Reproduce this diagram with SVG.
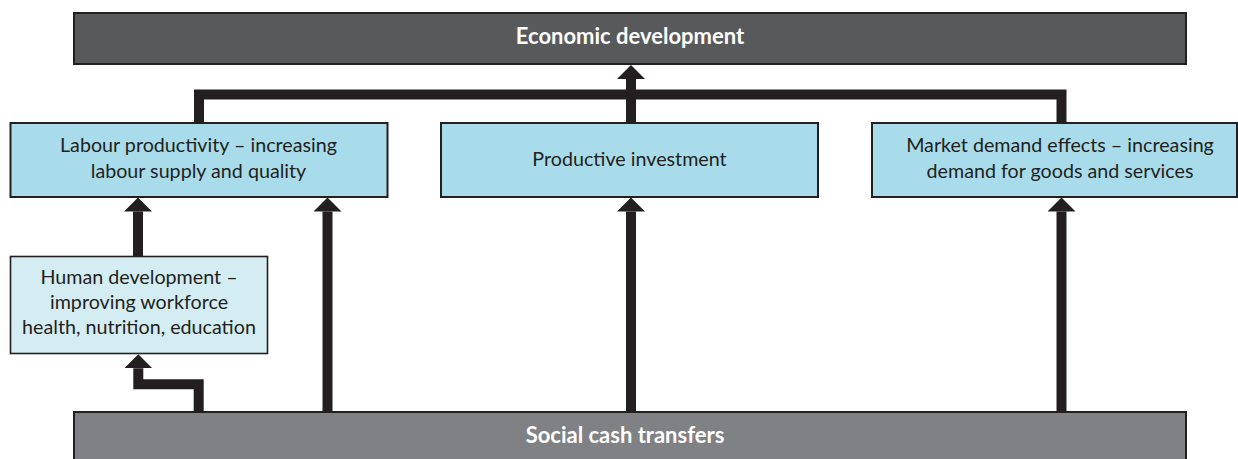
<svg xmlns="http://www.w3.org/2000/svg" width="1238" height="459" viewBox="0 0 1238 459">
<style>
.dark{fill:#58595b;stroke:#231f20;stroke-width:2}
.mid{fill:#808184;stroke:#231f20;stroke-width:2}
.blue{fill:#a8dcea;stroke:#231f20;stroke-width:2}
.pale{fill:#d4edf2;stroke:#231f20;stroke-width:1.6}
.t{font-family:Lato,"Open Sans","Liberation Sans",sans-serif;font-size:19.7px;fill:#231f20;text-anchor:middle}
.tb{font-family:Lato,"Open Sans","Liberation Sans",sans-serif;font-size:22px;font-weight:bold;fill:#ffffff;text-anchor:middle}
.c{fill:none;stroke:#231f20;stroke-width:10;stroke-linejoin:miter}
</style>
<defs>
<marker id="ah" viewBox="0 -14 14 28" markerWidth="14" markerHeight="28" refX="0" refY="0" orient="auto" markerUnits="userSpaceOnUse">
<path d="M0,-14 L14,0 L0,14 z" fill="#231f20"/>
</marker>
</defs>
<g id="economic-development">
<rect class="dark" x="74" y="13" width="1112" height="51"/>
<text class="tb" x="630" y="44">Economic development</text>
</g>
<g id="social-cash-transfers">
<rect class="mid" x="74" y="412" width="1112" height="60"/>
<text class="tb" x="625" y="443">Social cash transfers</text>
</g>
<g id="labour-productivity">
<rect class="blue" x="10.5" y="123" width="377" height="74"/>
<text class="t" x="198.5" y="152">Labour productivity – increasing</text>
<text class="t" x="198.5" y="177.5">labour supply and quality</text>
</g>
<g id="productive-investment">
<rect class="blue" x="441" y="123" width="377" height="74"/>
<text class="t" x="629.5" y="165.5">Productive investment</text>
</g>
<g id="market-demand">
<rect class="blue" x="872" y="123" width="365" height="74"/>
<text class="t" x="1060" y="152">Market demand effects – increasing</text>
<text class="t" x="1060" y="177.5">demand for goods and services</text>
</g>
<g id="human-development">
<rect class="pale" x="10.5" y="256.5" width="257" height="97"/>
<text class="t" x="139" y="284">Human development –</text>
<text class="t" x="139" y="309">improving workforce</text>
<text class="t" x="139" y="334">health, nutrition, education</text>
</g>
<g id="connectors">
<path class="c" d="M199,123 V94.5 H1061.5 V123"/>
<path class="c" d="M631,123 V79" marker-end="url(#ah)"/>
<path class="c" d="M138,256 V211.5" marker-end="url(#ah)"/>
<path class="c" d="M327.5,412 V211.5" marker-end="url(#ah)"/>
<path class="c" d="M631,412 V211.5" marker-end="url(#ah)"/>
<path class="c" d="M1061.5,412 V211.5" marker-end="url(#ah)"/>
<path class="c" d="M198.7,412 V384.3 H138.3 V368.3" marker-end="url(#ah)"/>
</g>
</svg>
